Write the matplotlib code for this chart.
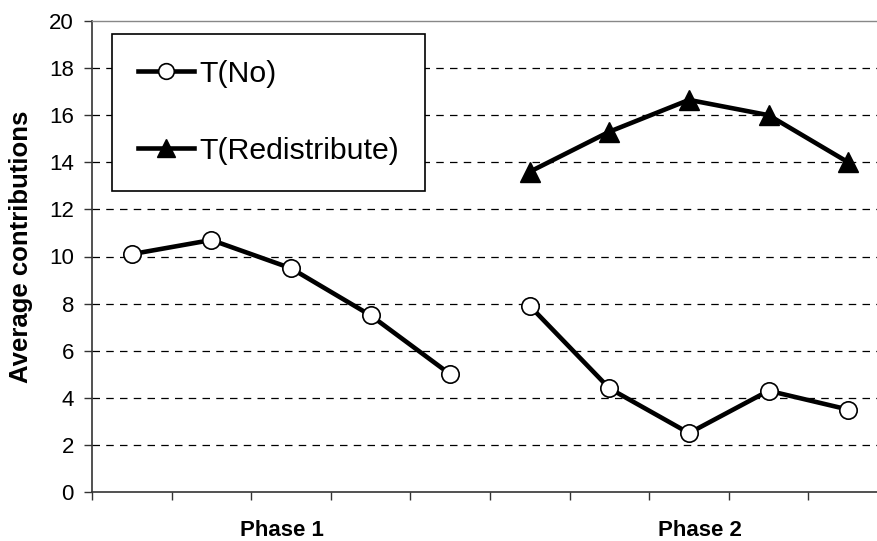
import matplotlib
matplotlib.use("Agg")
import matplotlib.pyplot as plt
import matplotlib.transforms as mtransforms

plt.rcParams['font.family'] = ['Liberation Sans', 'DejaVu Sans']

positions_phase1 = [0, 1, 2, 3, 4]
positions_phase2 = [5, 6, 7, 8, 9]
no_phase1 = [10.1, 10.7, 9.5, 7.5, 5.0]
no_phase2 = [7.9, 4.4, 2.5, 4.3, 3.5]
redistribute_phase2 = [13.6, 15.3, 16.65, 16.0, 14.0]
phase_labels = ["Phase 1", "Phase 2"]
phase_label_x = [1.89, 7.14]
y_ticks = [0, 2, 4, 6, 8, 10, 12, 14, 16, 18, 20]

fig = plt.figure(figsize=(8.78, 5.41), dpi=100)
ax = fig.add_axes([92 / 878, 49 / 541, 796 / 878, 471 / 541])

for y in y_ticks[1:-1]:
    ax.axhline(y, color="black", lw=0.9, ls=(0, (6, 5)), zorder=1)

line_kw = dict(color="black", lw=3.3, zorder=3)
ax.plot(positions_phase1, no_phase1, marker="o", ms=12.5, mfc="white", mec="black", mew=1.2,
        label="T(No)", **line_kw)
ax.plot(positions_phase2, no_phase2, marker="o", ms=12.5, mfc="white", mec="black", mew=1.2, **line_kw)
ax.plot(positions_phase2, redistribute_phase2, marker="^", ms=14, mfc="black", mec="black",
        label="T(Redistribute)", **line_kw)

ax.set_xlim(-0.5, 9.5)
ax.set_ylim(0, 20)
ax.set_yticks(y_ticks)
ax.set_xticks([i - 0.5 for i in range(11)])
ax.set_xticklabels([])
ax.tick_params(axis="y", labelsize=16, length=6, width=1, pad=7, color="#333333")
ax.tick_params(axis="x", length=6, width=1, color="#333333")

for s in ["left", "bottom"]:
    ax.spines[s].set_color("#333333")
    ax.spines[s].set_linewidth(1.2)
ax.spines["right"].set_visible(False)
ax.spines["top"].set_color("#888888")
ax.spines["top"].set_linewidth(1)

ax.set_ylabel("Average contributions", fontsize=18.5, fontweight="bold")
ax.yaxis.set_label_coords(-0.074, 0.521)

trans = mtransforms.blended_transform_factory(ax.transData, ax.transAxes)
for lbl, xp in zip(phase_labels, phase_label_x):
    ax.text(xp, -0.081, lbl, transform=trans, ha="center", va="center",
            fontsize=16, fontweight="bold")

leg = ax.legend(loc="upper left", bbox_to_anchor=(20 / 796, 1 - 13 / 471), fontsize=21.8,
                frameon=True, fancybox=False, edgecolor="black", framealpha=1,
                borderpad=0.85, labelspacing=1.63, handlelength=1.85, handletextpad=0.2,
                borderaxespad=0, markerscale=0.9)
leg.get_frame().set_linewidth(1.2)
leg.set_zorder(5)

fig.savefig("out.png", dpi=100)
